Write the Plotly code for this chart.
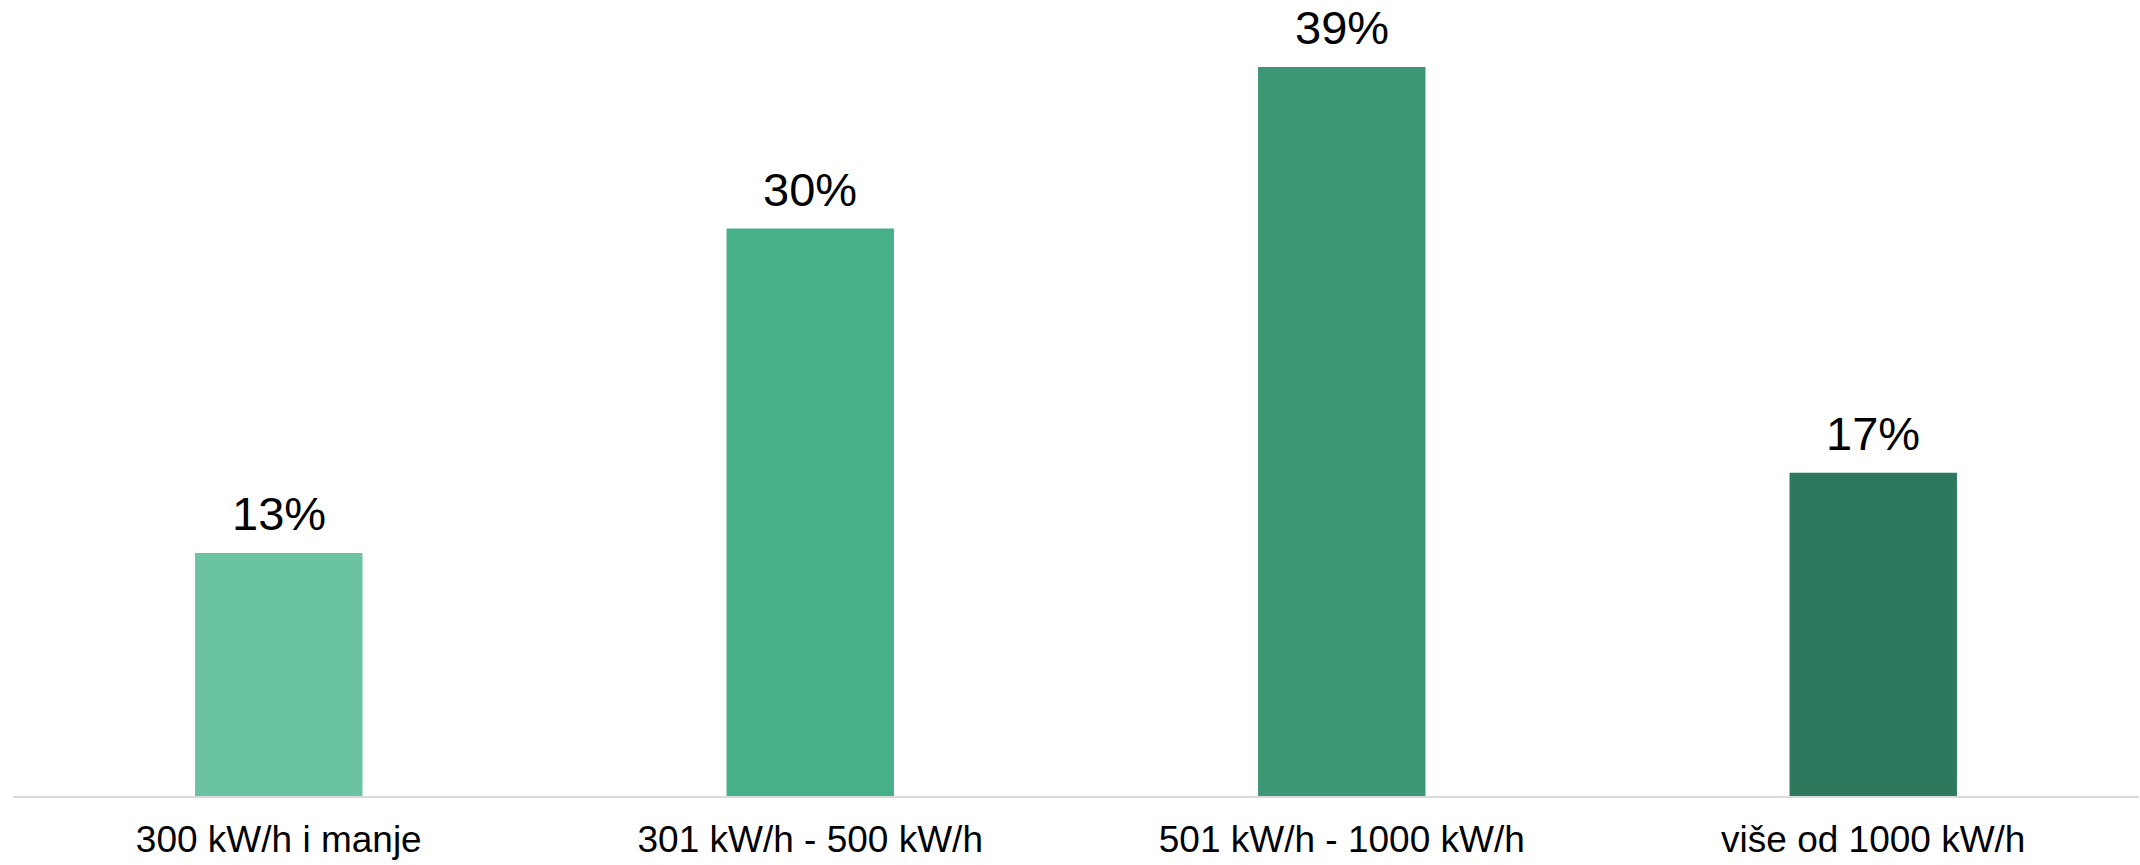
import plotly.graph_objects as go

categories = ["300 kW/h i manje", "301 kW/h - 500 kW/h", "501 kW/h - 1000 kW/h", "više od 1000 kW/h"]
values = [13.05, 30.46, 39.13, 17.35]
labels = ["13%", "30%", "39%", "17%"]
colors = ["#6AC4A1", "#46B188", "#3D9674", "#2E785D"]

W, H = 2140, 865
px_per_pct = 18.64
plot_top = 10
plot_bottom = 796.5
ymin_pct = 0
ymax = (plot_bottom - plot_top) / px_per_pct

fig = go.Figure()
fig.add_trace(go.Bar(
    x=categories, y=values, marker=dict(color=colors, line=dict(width=0)),
    width=0.315, hoverinfo="skip", cliponaxis=False,
))
for c, v, t in zip(categories, values, labels):
    fig.add_annotation(x=c, y=v, text=t, showarrow=False, yanchor="bottom",
                       yshift=11, font=dict(family="Liberation Sans, Arial", size=47, color="#000000"))

fig.update_layout(
    width=W, height=H,
    margin=dict(l=12.75, r=1.25, t=plot_top, b=H - plot_bottom, pad=0),
    paper_bgcolor="white", plot_bgcolor="white",
    showlegend=False,
    font=dict(family="Liberation Sans, Arial", color="#000000"),
    xaxis=dict(showline=True, linecolor="#D9D9D9", linewidth=2, showgrid=False,
               ticks="", tickfont=dict(size=37, color="#000000"),
               ticklabelstandoff=10, fixedrange=True),
    yaxis=dict(range=[ymin_pct, ymax], visible=False, showgrid=False, zeroline=False, fixedrange=True),
)
fig.write_html("out.html", config={"displayModeBar": False, "staticPlot": True},
               post_script="document.body.style.margin='0';document.body.style.overflow='hidden';")
